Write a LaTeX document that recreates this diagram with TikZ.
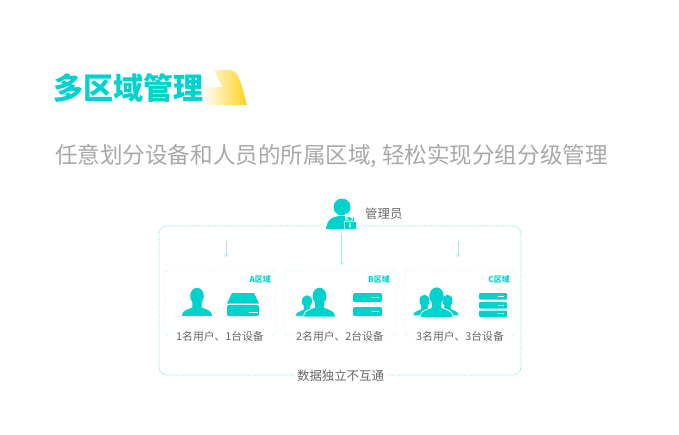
\documentclass[tikz,border=0pt]{standalone}
\usepackage{fontspec}
\usetikzlibrary{arrows.meta}
\setmainfont{Noto Sans CJK SC}
\definecolor{areateal}{HTML}{00D3CE}
\definecolor{framecyan}{HTML}{6FE3DE}
\definecolor{labelgray}{HTML}{666666}
\definecolor{slogangray}{HTML}{A8A8A8}
\definecolor{tagyellow}{HTML}{FFD21E}
\tikzset{
  framebox/.style={draw=framecyan,densely dotted,thick,rounded corners=8pt,inner sep=0pt},
  regionbox/.style={draw=framecyan,densely dotted,rounded corners=4pt,inner sep=0pt,minimum height=66pt},
  regionname/.style={font=\bfseries\fontsize{8}{8}\selectfont,text=areateal,inner sep=0pt},
  countlabel/.style={font=\fontsize{10.8}{12}\selectfont,text=labelgray,fill=white,inner sep=3pt},
  downarrow/.style={draw=framecyan!70,-{Straight Barb[width=4pt,length=2.5pt]}},
  usericon/.pic={
    \fill[areateal,draw=white,line width=0.8pt] (-15.5,0.4) -- (-15.5,-1) .. controls (-15.5,-6) and (-9,-7) .. (-5,-9) -- (-5,-15) -- (5,-15) -- (5,-9) .. controls (9,-7) and (15.5,-6) .. (15.5,-1) -- (15.5,0.4) -- cycle;
    \fill[areateal] (0,-20) ellipse (6.8 and 8.2);
  },
  ledbar/.style={fill=white}
}
\begin{document}
\begin{tikzpicture}[x=1pt,y=-1pt]
  \useasboundingbox (0,0) rectangle (679,434);

  \shade[left color=white,right color=tagyellow] (214,70) -- (228,70) .. controls (238,70) and (240,78) .. (247,105) -- (202,105) -- (202,87) -- (222,87) -- cycle;
  \node[anchor=west,inner sep=0pt,text=areateal,font=\bfseries\fontsize{30}{30}\selectfont] (title) at (53.5,88) {多区域管理};
  \node[anchor=west,inner sep=0pt,text=slogangray,font=\fontsize{22.55}{24}\selectfont] (slogan) at (55,156) {任意划分设备和人员的所属区域, 轻松实现分组分级管理};

  \node[framebox,minimum width=362pt,minimum height=149pt] (frame) at (340,300.5) {};
  \node[regionbox,minimum width=111pt] (regionA) at (220,303) {};
  \node[regionbox,minimum width=111pt] (regionB) at (340.5,303) {};
  \node[regionbox,minimum width=110pt] (regionC) at (460,303) {};

  \node[regionname,anchor=east] (nameA) at (271,279) {A区域};
  \node[regionname,anchor=east] (nameB) at (390,279) {B区域};
  \node[regionname,anchor=east] (nameC) at (510,279) {C区域};

  \node[countlabel] (countA) at (220,336) {1名用户、1台设备};
  \node[countlabel] (countB) at (340,336) {2名用户、2台设备};
  \node[countlabel] (countC) at (460,336) {3名用户、3台设备};
  \node[fill=white,inner sep=3pt,text=labelgray,font=\fontsize{12.4}{13}\selectfont] (isolated) at (340.5,376) {数据独立不互通};

  % admin
  \fill[white] (324,222) rectangle (359,230);
  \fill[areateal] (326,229) .. controls (327,219) and (333,216) .. (341.5,216) .. controls (350,216) and (356,219) .. (357.5,229) -- cycle;
  \fill[areateal] (342,207) circle (8.5);
  \draw[white,line width=2.8pt] (346.8,222) -- (346.8,219.5) arc (180:0:3.2) -- (353.2,222);
  \draw[areateal,line width=1.1pt] (346.8,222) -- (346.8,219.5) arc (180:0:3.2) -- (353.2,222);
  \fill[areateal,draw=white,line width=0.8pt] (344,221.5) rectangle (356,229.5);
  \fill[white] (350,224) circle (1.4) (349.4,224) rectangle (350.6,227.5);
  \node[anchor=west,inner sep=0pt,text=labelgray,font=\fontsize{12.4}{13}\selectfont] (admin) at (365,213.5) {管理员};

  \coordinate (startA) at (226,241);
  \coordinate (endA) at (226,257);
  \coordinate (startB) at (341.5,234);
  \coordinate (endB) at (341.5,265);
  \coordinate (startC) at (458,241);
  \coordinate (endC) at (458,257);
  \draw[downarrow] (startA) -- (endA);
  \draw[downarrow] (startB) -- (endB);
  \draw[downarrow] (startC) -- (endC);

  % users
  \pic at (197,316) {usericon};
  \pic[scale=0.74] at (307,316) {usericon};
  \pic[scale=1.02] at (319.5,316.5) {usericon};
  \pic[scale=0.74] at (424.5,315.5) {usericon};
  \pic[scale=0.74] at (447.5,315.5) {usericon};
  \pic[scale=1.05] at (436.5,317) {usericon};

  % devices
  \fill[areateal] (232,293) -- (254,293) -- (259,303.5) -- (227,303.5) -- cycle;
  \fill[areateal,rounded corners=1.5pt] (227,305) rectangle (259,316);
  \fill[ledbar] (249,311.5) rectangle (258,313);
  \foreach \rowtop/\rowend in {293/302,307/316}{
    \fill[areateal,rounded corners=1.5pt] (353,\rowtop) rectangle (382,\rowend);
    \fill[ledbar] (372,\rowtop+3.7) rectangle (379,\rowtop+5.2);
  }
  \foreach \rowtop/\rowend in {293/299.5,302/308.5,310.5/317}{
    \fill[areateal,rounded corners=1pt] (479,\rowtop) rectangle (507,\rowend);
    \fill[ledbar] (498,\rowtop+2.6) rectangle (504,\rowtop+3.8);
  }
\end{tikzpicture}
\end{document}
